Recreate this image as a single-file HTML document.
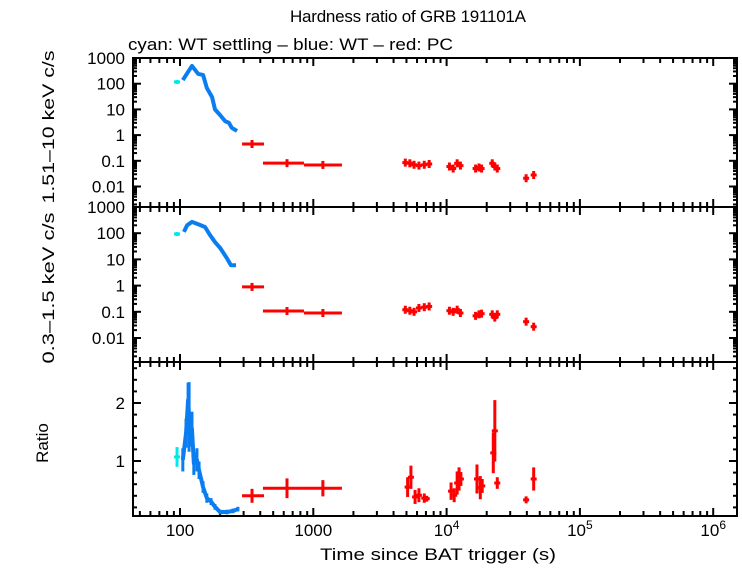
<!DOCTYPE html>
<html><head><meta charset="utf-8"><style>
body{margin:0;background:#fff}
svg text{font-family:"Liberation Sans",sans-serif;font-size:17px;fill:#000}
</style></head><body>
<svg id="c" width="742" height="566" viewBox="0 0 742 566">
<text x="290" y="22" font-size="16.5" textLength="236" lengthAdjust="spacing">Hardness ratio of GRB 191101A</text>
<text x="128" y="50" textLength="325" lengthAdjust="spacingAndGlyphs">cyan: WT settling – blue: WT – red: PC</text>
<text transform="translate(54,127) rotate(-90)" text-anchor="middle" textLength="153" lengthAdjust="spacingAndGlyphs">1.51–10 keV c/s</text>
<text transform="translate(54,288) rotate(-90)" text-anchor="middle" textLength="151" lengthAdjust="spacingAndGlyphs">0.3–1.5 keV c/s</text>
<text transform="translate(48,443) rotate(-90)" text-anchor="middle">Ratio</text>
<text x="320" y="560" textLength="236" lengthAdjust="spacingAndGlyphs">Time since BAT trigger (s)</text>
<g id="g"></g>
</svg>
<script>
// ---- data ----
const cyanT=[95];
const cyanHard=[117];
const cyanSoft=[93];
const cyanRatio=[1.07];
const cyanRatioErr=[0.17];
const wtHardT=[105,113,123,137,149,159,174,183,200,218,233,245,268];
const wtHard=[138,250,490,240,220,68,30,10,6,3.5,3,1.9,1.45];
const wtSoftT=[107,113,123,137,154,168,183,200,225,241,263];
const wtSoft=[112,200,270,220,173,85,46,27.5,11,6,6];
const wtRatioT=[105,111,115,117,123,127,134,139,149,159,171,183,200,225,250,272];
const wtRatio=[1.02,1.48,2.05,1.76,1.55,0.96,1.02,0.84,0.55,0.36,0.3,0.21,0.12,0.12,0.14,0.17];
const wtRatioErr=[0.2,0.25,0.3,0.6,0.3,0.2,0.2,0.15,0.1,0.08,0.06,0.05,0.04,0.04,0.04,0.04];
const pcT=[347,635,1180];
const pcTlo=[292,419,851];
const pcThi=[427,851,1640];
const pcHard=[0.45,0.081,0.069];
const pcSoft=[0.89,0.107,0.09];
const pcRatio=[0.40,0.53,0.53];
const pcRatioErr=[0.12,0.17,0.14];
const pc2T=[4900,5300,5700,6200,6800,7400,10500,11200,12000,12700,16500,17500,18300,22000,23000,24000,39500,45000];
const pc2Hard=[0.085,0.08,0.07,0.065,0.07,0.075,0.06,0.05,0.08,0.065,0.05,0.055,0.05,0.08,0.06,0.05,0.021,0.028];
const pc2Soft=[0.12,0.11,0.1,0.14,0.15,0.16,0.11,0.1,0.12,0.09,0.07,0.08,0.085,0.08,0.06,0.08,0.042,0.027];
const pc3T=[5100,5400,5800,6200,6800,7100,10800,11400,12000,12400,12800,16900,17900,18500,22400,23000,24000,39500,45000];
const pc3Ratio=[0.55,0.72,0.38,0.41,0.36,0.35,0.48,0.41,0.62,0.69,0.69,0.69,0.54,0.57,1.14,1.52,0.62,0.33,0.69];
const pc3Err=[0.17,0.2,0.12,0.12,0.08,0.05,0.15,0.12,0.2,0.2,0.12,0.25,0.2,0.12,0.35,0.53,0.1,0.06,0.2];
const xTicks=[100,1000,1e4,1e5,1e6];
const xTickLabels=["100","1000","10^4","10^5","10^6"];
const logTicks=[1000,100,10,1,0.1,0.01];
const logTickLabels=["1000","100","10","1","0.1","0.01"];
const ratioTicks=[1,2];
// ---- layout ----
const L=133,R=737,T1=58,B1=207,T2=207,B2=362,T3=362,B3=516;
const X=t=>180+133.3*(Math.log10(t)-2);
const Y1=v=>T1+25.7*(3-Math.log10(v));
const Y2=v=>T2+26.2*(3-Math.log10(v));
const Y3=v=>461-58*(v-1);
const g=document.getElementById('g');
const NS='http://www.w3.org/2000/svg';
function mk(tag,a,name){const e=document.createElementNS(NS,tag);for(const k in a)e.setAttribute(k,a[k]);


g.appendChild(e);return e;}
function ln(x1,y1,x2,y2,c,w,name){return mk('line',{x1,y1,x2,y2,stroke:c,'stroke-width':w},name);}
const BLUE='#0a7ef0',CY='#00e8e8',RED='#ff0000';
// frames
[[T1,B1],[T2,B2],[T3,B3]].forEach(([t,b],i)=>{
 mk('rect',{x:L,y:t,width:R-L,height:b-t,fill:'none',stroke:'#000','stroke-width':2},'panel-frame');
 for(let d=1;d<=6;d++)for(let m=1;m<10;m++){const tv=m*Math.pow(10,d);const x=X(tv);if(x<L||x>R)continue;
  const len=m==1?8:5;ln(x,b,x,b-len,'#000',2,'x-tick');ln(x,t,x,t+len,'#000',2,'x-tick');}
});
// log y ticks
[[Y1,T1,B1],[Y2,T2,B2]].forEach(([Y,t,b],pi)=>{
 for(let d=-3;d<=3;d++)for(let m=1;m<10;m++){const v=m*Math.pow(10,d);const y=Y(v);if(y<t-0.5||y>b+0.5)continue;
  const len=m==1?8:4;ln(L,y,L+len,y,'#000',2,'y-tick');ln(R,y,R-len,y,'#000',2,'y-tick');}
 logTicks.forEach((v,i)=>{const y=Y(v);const e=mk('text',{x:L-8,y:y+6,'text-anchor':'end'},'y-tick-label');e.textContent=logTickLabels[i];});
});
for(let v=0.2;v<2.7;v+=0.2){const y=Y3(v);if(y<T3)break;const maj=Math.abs(v-Math.round(v))<0.01;
 const len=maj?8:4;ln(L,y,L+len,y,'#000',2,'y-tick');ln(R,y,R-len,y,'#000',2,'y-tick');}
ratioTicks.forEach(v=>{const e=mk('text',{x:L-8,y:Y3(v)+6,'text-anchor':'end'},'y-tick-label');e.textContent=String(v);});
xTicks.forEach((t,i)=>{const s=xTickLabels[i];const e=mk('text',{x:X(t),y:536,'text-anchor':'middle'},'x-tick-label');
 if(s.includes('^')){const [b,p]=s.split('^');e.textContent=b;const ts=document.createElementNS(NS,'tspan');ts.setAttribute('dy','-7');ts.setAttribute('font-size','12');ts.textContent=p;e.appendChild(ts);}else e.textContent=s;});
// series helpers
function line(T,V,Y,c,name){mk('polyline',{points:T.map((t,i)=>X(t)+','+Y(V[i])).join(' '),fill:'none',stroke:c,'stroke-width':4,'stroke-linejoin':'round'},name);}
function cross(t,v,Y,c,hw,hv,name){const x=X(t),y=Y(v);ln(x-hw,y,x+hw,y,c,3,name);ln(x,y-hv,x,y+hv,c,3,name);}
// top
cyanT.forEach((t,i)=>cross(t,cyanHard[i],Y1,CY,3,2,'wt-settling-hard'));
line(wtHardT,wtHard,Y1,BLUE,'wt-hard-series');
pcT.forEach((t,i)=>{const y=Y1(pcHard[i]);ln(X(pcTlo[i]),y,X(pcThi[i]),y,RED,3,'pc-hard-point');ln(X(t),y-4,X(t),y+4,RED,3,'pc-hard-point');});
pc2T.forEach((t,i)=>cross(t,pc2Hard[i],Y1,RED,3,4,'pc-hard-point'));
// middle
cyanT.forEach((t,i)=>cross(t,cyanSoft[i],Y2,CY,3,2,'wt-settling-soft'));
line(wtSoftT,wtSoft,Y2,BLUE,'wt-soft-series');
pcT.forEach((t,i)=>{const y=Y2(pcSoft[i]);ln(X(pcTlo[i]),y,X(pcThi[i]),y,RED,3,'pc-soft-point');ln(X(t),y-4,X(t),y+4,RED,3,'pc-soft-point');});
pc2T.forEach((t,i)=>cross(t,pc2Soft[i],Y2,RED,3,4,'pc-soft-point'));
// ratio
cyanT.forEach((t,i)=>{const x=X(t);ln(x,Y3(cyanRatio[i]-cyanRatioErr[i]),x,Y3(cyanRatio[i]+cyanRatioErr[i]),CY,3,'wt-settling-ratio');ln(x-3,Y3(cyanRatio[i]),x+3,Y3(cyanRatio[i]),CY,3,'wt-settling-ratio');});
line(wtRatioT,wtRatio,Y3,BLUE,'wt-ratio-series');
wtRatioT.forEach((t,i)=>{const x=X(t);ln(x,Math.min(B3,Y3(wtRatio[i]-wtRatioErr[i])),x,Y3(wtRatio[i]+wtRatioErr[i]),BLUE,3,'wt-ratio-errorbar');});
pcT.forEach((t,i)=>{const y=Y3(pcRatio[i]);ln(X(pcTlo[i]),y,X(pcThi[i]),y,RED,3,'pc-ratio-point');ln(X(t),Y3(pcRatio[i]-pcRatioErr[i]),X(t),Y3(pcRatio[i]+pcRatioErr[i]),RED,3,'pc-ratio-point');});
pc3T.forEach((t,i)=>{const x=X(t),y=Y3(pc3Ratio[i]);ln(x-3,y,x+3,y,RED,3,'pc-ratio-point');ln(x,Y3(pc3Ratio[i]-pc3Err[i]),x,Y3(pc3Ratio[i]+pc3Err[i]),RED,3,'pc-ratio-point');});
</script>
</body></html>
